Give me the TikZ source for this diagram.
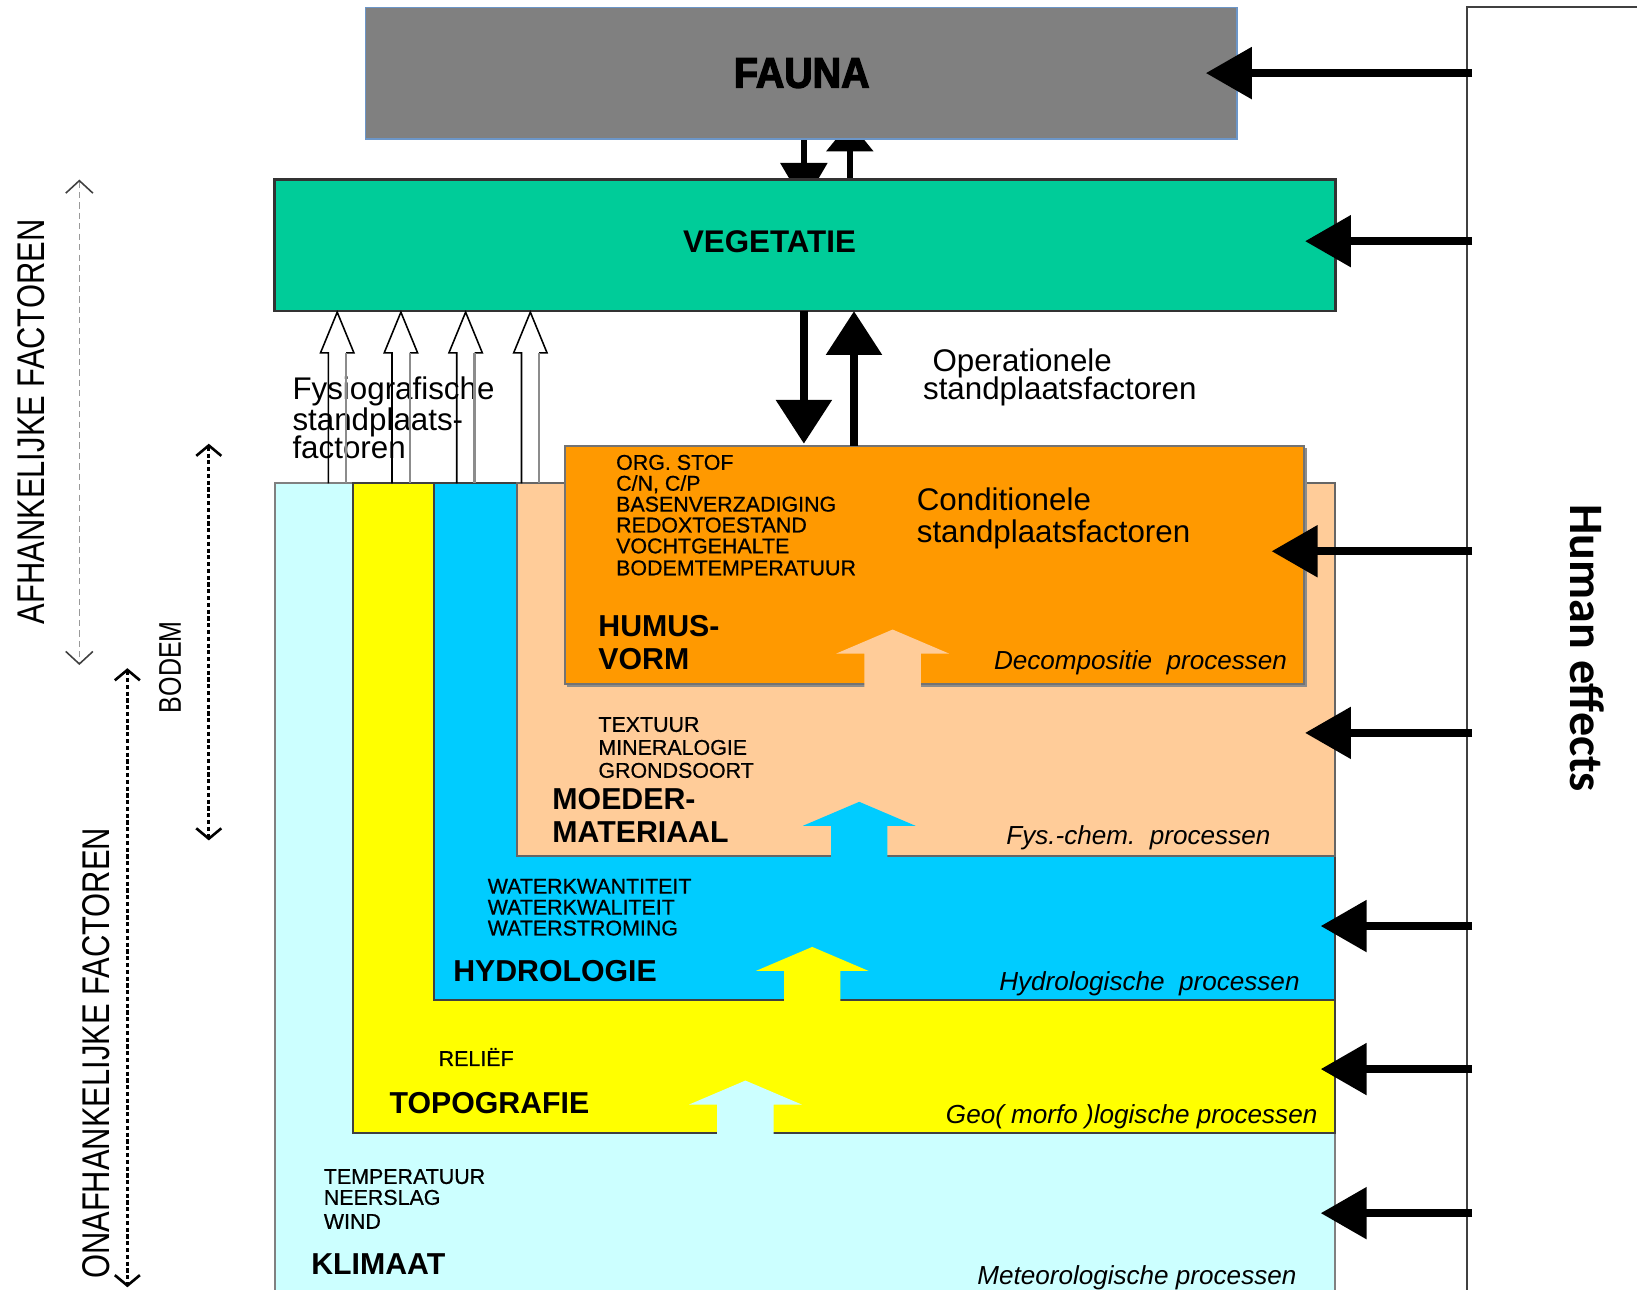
\documentclass[tikz,border=0pt]{standalone}
\usepackage{fontspec}
\setmainfont{Liberation Sans}
\newfontfamily\narrowfont[FakeStretch=0.8]{Liberation Sans}
\newfontfamily\listfont[FakeBold=0.6]{Liberation Sans}
\newfontfamily\faunafont[FakeStretch=0.92,BoldFeatures={FakeBold=3}]{Liberation Sans}
\newfontfamily\humanfont{Carlito}
\usetikzlibrary{arrows.meta,backgrounds}
\definecolor{fgray}{HTML}{808080}
\definecolor{fborder}{HTML}{6C96C8}
\definecolor{vgreen}{HTML}{00CC99}
\definecolor{horange}{HTML}{FF9900}
\definecolor{mpeach}{HTML}{FFCC99}
\definecolor{hblue}{HTML}{00CCFF}
\definecolor{tyellow}{HTML}{FFFF00}
\definecolor{kcyan}{HTML}{CCFFFF}
\newcommand\fsz[2]{\fontsize{#1}{#2}\selectfont}
\begin{document}
\begin{tikzpicture}[x=1pt,y=-1pt,
  box/.style={rectangle,inner sep=0pt,outer sep=0pt},
  lst/.style={anchor=base west,inner sep=0pt,font=\listfont\fsz{20.5}{20}},
  ttl/.style={anchor=base west,inner sep=0pt,font=\bfseries\fsz{29}{30}},
  proc/.style={anchor=base east,inner sep=0pt,font=\itshape\fsz{25}{25}},
  lbl/.style={anchor=base west,inner sep=0pt,font=\fsz{30}{30}},
  bigarrow/.style={line width=8pt,-{Triangle[length=44pt,width=48pt]}},
  vertarrow/.style={line width=8pt,-{Triangle[length=42pt,width=52pt]}},
  smallarrow/.style={line width=6pt},
  dotarrow/.style={line width=2.5pt,dash pattern=on 4pt off 2.5pt,
    {Straight Barb[length=10pt,width=24pt]}-{Straight Barb[length=10pt,width=24pt]}},
]
\useasboundingbox (0,0) rectangle (1568,1235);
\clip (0,0) rectangle (1568,1235);

% top boxes
\node[box,fill=fgray,draw=fborder,line width=1.5pt,minimum width=835pt,minimum height=126pt] (fauna) at (767.5,70) {};
\node[box,fill=vgreen,draw=black!80,line width=2.5pt,minimum width=1016pt,minimum height=126pt] (veg) at (771,235) {};

\begin{scope}[on background layer]
  \fill[white] (0,0) rectangle (1568,1235);
  \coordinate (fd) at (770,195);
  \coordinate (fu) at (814,117);
  \draw[smallarrow,-{Triangle[length=39pt,width=44pt]}] (fauna.south -| fd) -- (fd);
  \draw[smallarrow,-{Triangle[length=28pt,width=44pt]}] (veg.north -| fu) -- (fu);
\end{scope}

% soil layers
\node[box,fill=kcyan,draw=black!50,line width=2pt,minimum width=1016pt,minimum height=787pt] (klim) at (771,856.5) {};
\node[box,fill=tyellow,draw=black!75,line width=2pt,minimum width=941pt,minimum height=622pt] (topo) at (808.5,774) {};
\node[box,fill=hblue,draw=black!75,line width=2pt,minimum width=863pt,minimum height=495pt] (hydro) at (847.5,710.5) {};
\node[box,fill=mpeach,draw=black!60,line width=2pt,minimum width=784pt,minimum height=357pt] (moeder) at (887,641.5) {};
\fill[black!45] (543,429) rectangle (1252,658);
\node[box,fill=horange,draw=black!55,line width=2pt,minimum width=708pt,minimum height=228pt] (humus) at (895,541) {};

% block arrows between layers
\foreach \c/\x/\b/\t in {kcyan/714/1088/1035, tyellow/778/960/907, hblue/823/822/768, mpeach/855/658/603}
  \fill[\c] ({\x-27},\b) -- ({\x-27},{\t+23}) -- ({\x-54},{\t+23}) -- (\x,\t) -- ({\x+54},{\t+23}) -- ({\x+27},{\t+23}) -- ({\x+27},\b) -- cycle;

% operational arrows
\coordinate (vd) at (770,425);
\coordinate (vu) at (818,298);
\draw[vertarrow] (veg.south -| vd) -- (vd);
\draw[vertarrow] (humus.north -| vu) -- (vu);

% physiographic
\node[lbl] (fys1) at (280,383) {Fysiografische};
\node[lbl] (fys2) at (280,412) {standplaats-};
\node[lbl] (fys3) at (280,439) {factoren};
\foreach \x [count=\i] in {323,384,446,508} {
  \coordinate (ha\i) at (\x,299);
  \draw[black,line width=1.5pt,line join=miter] ({\x-8.5},463) -- ({\x-8.5},338) -- ({\x-16},338) -- (ha\i) -- ({\x+16},338) -- ({\x+8.5},338);
  \draw[black!45,line width=2pt] ({\x+8.5},338) -- ({\x+8.5},463);
}

\node[lbl] (op1) at (893,356) {Operationele};
\node[lbl] (op2) at (884,383) {standplaatsfactoren};
\node[lbl] (co1) at (878,489) {Conditionele};
\node[lbl] (co2) at (878,520) {standplaatsfactoren};

\node[inner sep=0pt,font=\faunafont\bfseries\fsz{41}{41}] (faunatxt) at (768,70) {FAUNA};
\node[inner sep=0pt,font=\bfseries\fsz{30}{30}] (vegtxt) at (737,232) {VEGETATIE};

% humus
\node[lst] (h1) at (590,450) {ORG. STOF};
\node[lst] (h2) at (590,470) {C/N, C/P};
\node[lst] (h3) at (590,490) {BASENVERZADIGING};
\node[lst] (h4) at (590,510) {REDOXTOESTAND};
\node[lst] (h5) at (590,530) {VOCHTGEHALTE};
\node[lst] (h6) at (590,551) {BODEMTEMPERATUUR};
\node[ttl] (ht1) at (573,610) {HUMUS-};
\node[ttl] (ht2) at (573,641) {VORM};
\node[proc] (hp) at (1233,641) {Decompositie\ \ processen};

% moedermateriaal
\node[lst] (m1) at (573,701) {TEXTUUR};
\node[lst] (m2) at (573,723) {MINERALOGIE};
\node[lst] (m3) at (573,745) {GRONDSOORT};
\node[ttl] (mt1) at (529,775) {MOEDER-};
\node[ttl] (mt2) at (529,807) {MATERIAAL};
\node[proc] (mp) at (1217,809) {Fys.-chem.\ \ processen};

% hydrologie
\node[lst] (w1) at (467,856) {WATERKWANTITEIT};
\node[lst] (w2) at (467,876) {WATERKWALITEIT};
\node[lst] (w3) at (467,896) {WATERSTROMING};
\node[ttl] (wt) at (434,940) {HYDROLOGIE};
\node[proc] (wp) at (1245,949) {Hydrologische\ \ processen};

% topografie
\node[lst] (r1) at (420,1021) {RELIËF};
\node[ttl] (rt) at (373,1067) {TOPOGRAFIE};
\node[proc] (rp) at (1262,1076) {Geo( morfo )logische processen};

% klimaat
\node[lst] (k1) at (310,1134) {TEMPERATUUR};
\node[lst] (k2) at (310,1154) {NEERSLAG};
\node[lst] (k3) at (310,1177) {WIND};
\node[ttl] (kt) at (298,1221) {KLIMAAT};
\node[proc] (kp) at (1242,1230) {Meteorologische processen};

% human effects
\node[box,draw=black!75,line width=2pt,minimum width=215pt,minimum height=1253pt] (human) at (1512.5,633.5) {};
\node[rotate=-90,inner sep=0pt,font=\humanfont\bfseries\fsz{46}{46}] (humantxt) at (1520,621) {Human effects};
\coordinate (hx) at (1410,0);
\foreach \y/\tx [count=\i] in {70/1155, 231/1250, 528/1218, 702/1250, 887/1265, 1024/1265, 1162/1265} {
  \coordinate (ht\i) at (\tx,\y);
  \draw[bigarrow] (hx |- ht\i) -- (ht\i);
}

% left labels
\node[rotate=90,inner sep=0pt,font=\narrowfont\fsz{37}{37}] (afh) at (30,404) {AFHANKELIJKE FACTOREN};
\node[rotate=90,inner sep=0pt,font=\narrowfont\fsz{37}{37}] (onafh) at (92,1009) {ONAFHANKELIJKE FACTOREN};
\node[rotate=90,inner sep=0pt,font=\narrowfont\fsz{30}{30}] (bodem) at (163,639) {BODEM};

\coordinate (a1) at (76,172);
\coordinate (a2) at (76,637);
\draw[black!40,line width=1.5pt,dash pattern=on 6pt off 4pt,
  {Straight Barb[length=12pt,width=26pt,color=black!75]}-{Straight Barb[length=12pt,width=26pt,color=black!75]}] (a1) -- (a2);
\coordinate (b1) at (122,640);
\coordinate (b2) at (122,1233);
\draw[dotarrow] (b1) -- (b2);
\coordinate (c1) at (200,425);
\coordinate (c2) at (200,805);
\draw[dotarrow] (c1) -- (c2);
\end{tikzpicture}
\end{document}
